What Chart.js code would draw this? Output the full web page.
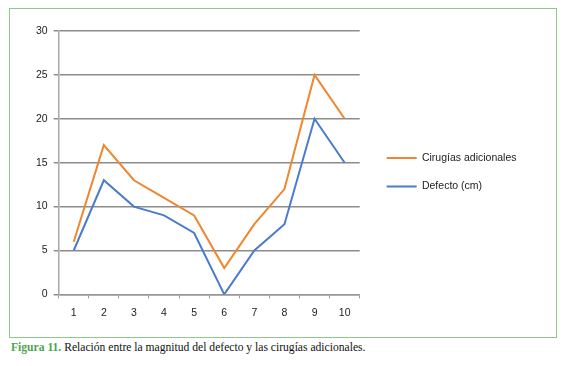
<!DOCTYPE html>
<html>
<head>
<meta charset="utf-8">
<script src="https://cdn.jsdelivr.net/npm/chart.js@4.4.1/dist/chart.umd.min.js"></script>
<style>
  body { margin: 0; background: #fff; width: 567px; height: 366px; position: relative; overflow: hidden; }
  #marco { position: absolute; left: 9px; top: 8px; width: 546px; height: 328px; border: 1.5px solid #8cc98a; }
  #marco canvas { position: absolute; left: 0; top: 0; }
  #pie { position: absolute; left: 11px; top: 341px; font-family: "Liberation Serif", "DejaVu Serif", serif; font-size: 11.6px; color: #111; white-space: nowrap; }
  #pie b { color: #4fa34d; }
</style>
</head>
<body>
<div id="marco"><canvas id="grafico" width="546" height="328"></canvas></div>
<div id="pie"><b>Figura 11.</b> Relación entre la magnitud del defecto y las cirugías adicionales.</div>
<script>
const etiquetas = ["1", "2", "3", "4", "5", "6", "7", "8", "9", "10"];
const cirugias = [6, 17, 13, 11, 9, 3, 8, 12, 25, 20];
const defecto = [5, 13, 10, 9, 7, 0, 5, 8, 20, 15];
const ticksY = [0, 5, 10, 15, 20, 25, 30];

const fuente = { family: "'Liberation Sans', Arial, sans-serif", size: 10.5 };

const ctx = document.getElementById('grafico').getContext('2d');
let chart = new Chart(ctx, {
    type: 'line',
    data: {
        labels: etiquetas,
        datasets: [
            {
                label: 'Cirugías adicionales',
                data: cirugias,
                borderColor: '#f0862e',
                backgroundColor: '#f0862e',
                borderWidth: 2,
                pointRadius: 0,
                tension: 0,
                yAxisID: 'y'
            },
            {
                label: 'Defecto (cm)',
                data: defecto,
                borderColor: '#4a7ccb',
                backgroundColor: '#4a7ccb',
                borderWidth: 2,
                pointRadius: 0,
                tension: 0,
                yAxisID: 'y'
            }
        ]
    },
    options: {
        responsive: false,
        animation: false,
        layout: { padding: { left: 20, top: 22, right: 29.5, bottom: 10 } },
        plugins: {
            tooltip: { enabled: false },
            legend: {
                position: 'right',
                fullSize: false,
                maxWidth: 250,
                // titulo vacio solo para bajar un poco las entradas
                title: { display: true, text: '', padding: 0, font: { size: 16 } },
                labels: {
                    font: fuente,
                    color: '#222',
                    usePointStyle: true,
                    pointStyle: 'line',
                    pointStyleWidth: 30,
                    padding: 18
                }
            }
        },
        scales: {
            x: {
                offset: true,
                grid: {
                    display: true,
                    offset: true,
                    drawOnChartArea: false,
                    drawTicks: true,
                    tickLength: 4,
                    color: '#999'
                },
                border: { color: '#999', width: 1.5 },
                ticks: { font: fuente, color: '#222', padding: 8 }
            },
            y: {
                min: 0,
                max: 30,
                afterBuildTicks: (eje) => { eje.ticks = ticksY.map(v => ({ value: v })); },
                grid: { color: '#8c8c8c', lineWidth: 1.5, tickLength: 5 },
                border: { color: '#aaa', width: 1.5 },
                ticks: { font: fuente, color: '#222', padding: 6 }
            },
            // eje vacio a la derecha: separa la leyenda del grafico
            y2: {
                position: 'right',
                grid: { display: false },
                border: { display: false },
                ticks: { display: false },
                afterFit: (eje) => { eje.width = 9; }
            }
        }
    }
});
</script>
</body>
</html>
